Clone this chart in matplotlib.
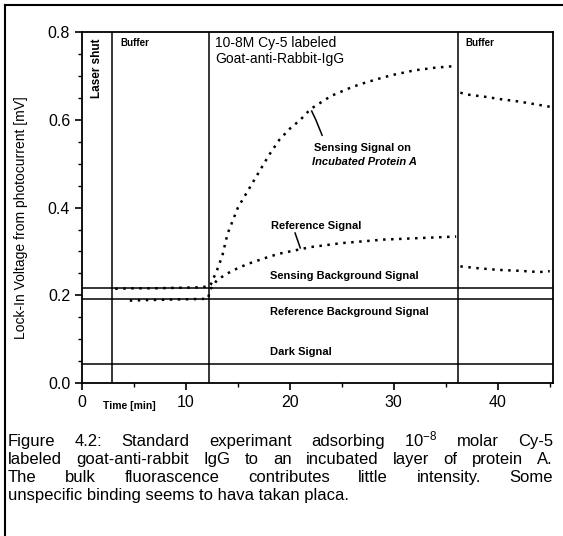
import matplotlib
matplotlib.use('Agg')
import matplotlib.pyplot as plt
from matplotlib.lines import Line2D
from matplotlib.ticker import MultipleLocator

plt.rcParams['font.family'] = ['Liberation Sans', 'DejaVu Sans']
plt.rcParams['mathtext.fontset'] = 'custom'
plt.rcParams['mathtext.rm'] = 'Liberation Sans'
plt.rcParams['mathtext.it'] = 'Liberation Sans:italic'
plt.rcParams['mathtext.bf'] = 'Liberation Sans:bold'

# phase boundaries (min)
laser_off = 2.9
buffer_end = 12.2
igg_end = 36.2

# background levels (mV)
sensing_bg = 0.216
reference_bg = 0.192
dark_level = 0.043

# sensing signal
sens_t = [3.2, 5, 7, 9, 11, 12.2,
          12.4, 13, 13.5, 14, 14.5, 15, 16, 17, 18, 19, 20, 21, 22, 23, 24, 25,
          26, 27, 28, 29, 30, 31, 32, 33, 34, 35, 36]
sens_v = [0.215, 0.216, 0.216, 0.217, 0.218, 0.22,
          0.225, 0.258, 0.29, 0.34, 0.37, 0.40, 0.44, 0.48, 0.52, 0.555, 0.58,
          0.60, 0.625, 0.64, 0.655, 0.665, 0.675, 0.683, 0.69, 0.697, 0.703,
          0.708, 0.713, 0.716, 0.719, 0.721, 0.723]
sens_buf_t = [36.4, 37, 38, 39, 40, 41, 42, 43, 44, 45]
sens_buf_v = [0.662, 0.658, 0.655, 0.652, 0.648, 0.645, 0.642, 0.638, 0.634, 0.63]

# reference signal
ref_t = [4.6, 6, 8, 10, 12.1,
         12.4, 13, 14, 15, 16, 17, 18, 19, 20, 21, 22, 23, 24, 25, 26, 27, 28,
         29, 30, 31, 32, 33, 34, 35, 36]
ref_v = [0.188, 0.189, 0.19, 0.191, 0.192,
         0.215, 0.235, 0.25, 0.262, 0.272, 0.28, 0.288, 0.295, 0.30, 0.305,
         0.31, 0.313, 0.316, 0.319, 0.321, 0.323, 0.325, 0.327, 0.328, 0.329,
         0.33, 0.331, 0.332, 0.333, 0.334]
ref_buf_t = [36.4, 38, 40, 42, 44, 45]
ref_buf_v = [0.266, 0.262, 0.258, 0.256, 0.253, 0.255]

caption = [
    "Figure 4.2: Standard experimant adsorbing 10$^{-8}$ molar Cy-5",
    "labeled goat-anti-rabbit IgG to an incubated layer of protein A.",
    "The bulk fluorascence contributes little intensity. Some",
    "unspecific binding seems to hava takan placa.",
]

fig = plt.figure(figsize=(5.63, 5.36), dpi=100)
ax = fig.add_axes([0.1456, 0.2854, 0.8364, 0.6546])

dot = dict(color='black', linestyle=(0, (1, 2.2)), linewidth=1.8)
ax.plot(sens_t, sens_v, **dot)
ax.plot(sens_buf_t, sens_buf_v, **dot)
ax.plot(ref_t, ref_v, **dot)
ax.plot(ref_buf_t, ref_buf_v, **dot)

for x in (laser_off, buffer_end, igg_end):
    ax.axvline(x, color='black', lw=1.1)
for y in (sensing_bg, reference_bg, dark_level):
    ax.axhline(y, color='black', lw=1.1)

ax.set_xlim(0, 45.3)
ax.set_ylim(0, 0.8)
ax.xaxis.set_major_locator(MultipleLocator(10))
ax.xaxis.set_minor_locator(MultipleLocator(5))
ax.yaxis.set_major_locator(MultipleLocator(0.2))
ax.yaxis.set_minor_locator(MultipleLocator(0.05))
ax.yaxis.set_major_formatter(plt.FuncFormatter(lambda v, p: f'{v:.1f}'))
ax.tick_params(which='major', direction='out', length=5, width=1.2, labelsize=11.5)
ax.tick_params(which='minor', direction='out', length=3, width=1.0)
for s in ax.spines.values():
    s.set_linewidth(1.3)

ax.set_ylabel('Lock-In Voltage from photocurrent [mV]', fontsize=10)
ax.yaxis.set_label_coords(-0.115, 0.47)
ax.text(2.0, -0.053, 'Time [min]', fontsize=7.5, fontweight='bold', ha='left', va='center')

small = dict(fontsize=8, fontweight='bold')
ax.text(1.45, 0.785, 'Laser shut', rotation=90, ha='center', va='top',
        fontsize=8.5, fontweight='bold')
ax.text(3.7, 0.787, 'Buffer', ha='left', va='top', fontsize=7, fontweight='bold')
ax.text(12.8, 0.792, '10-8M Cy-5 labeled\nGoat-anti-Rabbit-IgG', ha='left', va='top',
        fontsize=10, linespacing=1.2)
ax.text(36.9, 0.787, 'Buffer', ha='left', va='top', fontsize=7, fontweight='bold')

ax.text(22.3, 0.535, 'Sensing Signal on', ha='left', va='center', **small)
ax.text(22.1, 0.505, 'Incubated Protein A', ha='left', va='center', style='italic', **small)
ax.plot([22.1, 22.5, 23.1], [0.62, 0.60, 0.565], color='black', lw=1.1)

ax.text(18.2, 0.358, 'Reference Signal', ha='left', va='center', **small)
ax.plot([20.5, 21.0], [0.342, 0.308], color='black', lw=1.1)
ax.text(18.1, 0.243, 'Sensing Background Signal', ha='left', va='center', **small)
ax.text(18.1, 0.163, 'Reference Background Signal', ha='left', va='center', **small)
ax.text(18.1, 0.071, 'Dark Signal', ha='left', va='center', **small)

# scan border
fig.add_artist(Line2D([0.008, 1.0], [0.99, 0.99], color='black', lw=1.5, transform=fig.transFigure))
fig.add_artist(Line2D([0.008, 0.008], [0.0, 0.99], color='black', lw=1.5, transform=fig.transFigure))

# justified caption
renderer = fig.canvas.get_renderer()
x0, x1 = 8 / 563, 553 / 563
ys = [1 - 446 / 536, 1 - 464 / 536, 1 - 482 / 536, 1 - 500 / 536]
for i, line in enumerate(caption):
    words = line.split(' ')
    if i == len(caption) - 1:
        fig.text(x0, ys[i], line, fontsize=12, va='baseline')
        continue
    texts = [fig.text(0, ys[i], w, fontsize=12, va='baseline') for w in words]
    widths = [t.get_window_extent(renderer).width / fig.bbox.width for t in texts]
    gap = (x1 - x0 - sum(widths)) / (len(words) - 1)
    x = x0
    for t, w in zip(texts, widths):
        t.set_x(x)
        x += w + gap

fig.savefig('out.png', dpi=100)
